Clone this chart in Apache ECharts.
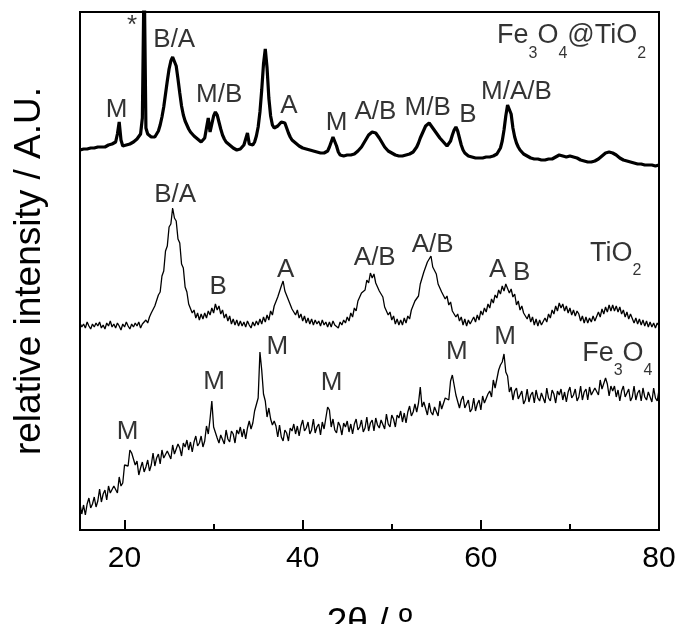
<!DOCTYPE html>
<html>
<head>
<meta charset="utf-8">
<script src="https://cdn.jsdelivr.net/npm/echarts@6/dist/echarts.min.js"></script>
<style>html,body{margin:0;padding:0;background:#fff;overflow:hidden}#chart{width:678px;height:624px}</style>
</head>
<body>
<div id="chart"></div>
<script>
// 2θ scan: 15.0° to 80.0° in 0.2° steps
const thetaStart = 15;
const thetaStep = 0.2;
const xTickLabels = [20, 40, 60, 80];

// Fe3O4@TiO2 (offset trace, top)
const compositeI = [
380,379,381,380,381,380,382,381,382,381,
383,382,383,384,383,384,385,384,386,386,
388,396,408,390,384,383,385,384,386,387,
388,389,391,393,396,412,560,402,396,394,
393,392,393,395,399,405,413,423,436,449,
461,469,473,472,464,451,437,424,415,409,
405,401,398,396,394,392,391,389,388,389,
392,402,412,398,406,414,418,415,408,401,
395,391,388,386,385,383,382,381,380,380,
381,382,385,391,397,386,384,385,388,394,
403,418,440,466,481,462,432,414,405,402,
402,404,405,408,410,407,402,397,393,390,
388,387,385,384,383,382,382,381,381,380,
380,379,379,378,378,377,377,377,378,379,
383,388,393,392,384,378,375,375,374,375,
375,374,375,376,376,377,379,380,383,385,
389,392,395,397,398,398,397,395,392,389,
386,383,381,379,378,377,376,375,375,374,
374,374,375,375,375,376,377,378,380,383,
387,392,396,400,404,406,407,405,402,400,
397,395,392,390,388,386,384,385,389,395,
400,403,399,392,385,380,377,375,374,373,
373,373,372,372,372,372,372,373,373,373,
373,374,374,375,376,379,382,389,400,414,
425,426,416,402,393,387,383,380,378,376,
375,374,373,372,372,371,371,371,370,370,
370,370,371,371,371,371,372,373,374,375,
375,374,373,373,374,374,374,373,372,372,
371,370,369,369,368,368,368,368,369,369,
370,371,372,374,376,377,378,378,378,377,
376,375,373,372,371,370,369,369,368,368,
367,367,367,366,366,366,366,365,365,365,
365,365,365,364,365,365
];

// TiO2 (offset trace, middle)
const tio2I = [
207,203,206,202,208,204,201,206,203,207,
204,208,202,205,201,207,204,209,203,206,
202,207,204,200,206,203,208,204,201,206,
203,207,204,208,202,206,204,210,207,213,
217,215,224,222,235,238,254,259,279,284,
303,306,322,312,309,291,287,266,262,243,
238,226,227,217,220,212,217,210,216,211,
217,212,219,215,222,217,226,220,224,216,
220,212,216,209,214,206,211,205,210,204,
209,204,208,203,209,205,202,208,204,209,
205,211,206,213,208,215,210,219,215,224,
222,233,232,244,249,239,241,230,231,221,
223,215,220,212,216,209,214,207,212,206,
211,205,210,206,209,204,210,205,208,203,
208,203,209,205,207,202,208,205,210,207,
213,209,217,213,222,219,229,227,237,235,
240,250,247,257,252,256,247,249,239,240,
233,223,225,215,218,210,214,206,211,205,
210,205,212,207,214,211,220,218,229,228,
234,246,246,258,258,268,266,274,263,265,
256,246,248,238,240,231,234,225,228,219,
221,213,216,209,213,205,211,204,210,206,
207,213,208,215,210,219,215,222,218,226,
222,231,227,235,232,240,236,244,239,246,
245,237,241,233,236,225,229,220,224,217,
219,211,216,208,213,205,211,204,210,205,
206,212,208,216,212,220,216,224,219,227,
222,226,219,224,217,222,215,220,214,219,
216,209,214,207,213,207,212,208,214,209,
211,218,213,221,216,223,218,225,219,225,
219,224,218,223,216,220,213,218,211,216,
214,207,212,206,211,205,210,204,209,203,
208,203,207,202,207,204
];

// Fe3O4 (bottom trace)
const fe3o4I = [
26,16,25,15,26,32,22,26,33,23,
29,41,28,36,40,30,44,37,35,44,
45,37,53,44,47,65,67,64,80,77,
79,65,69,55,62,68,58,63,70,59,
65,77,64,72,76,66,80,72,70,79,
79,71,85,76,74,86,82,74,87,83,
90,80,88,78,88,94,84,87,94,83,
89,104,96,111,129,103,104,92,87,95,
95,86,100,91,88,99,96,87,100,96,
103,93,101,91,102,109,101,107,119,117,
132,178,160,136,129,113,122,111,105,109,
104,93,105,93,89,100,97,89,102,99,
106,96,104,94,104,110,99,102,108,96,
100,111,97,103,106,95,108,101,103,123,
120,103,111,100,97,108,104,95,107,103,
109,98,106,96,106,111,100,103,110,98,
102,113,99,107,110,99,112,105,102,110,
110,101,116,106,103,115,111,103,115,112,
119,108,117,107,118,124,114,118,126,118,
127,143,123,128,128,115,127,118,115,123,
122,114,129,121,119,132,134,130,149,155,
156,135,137,122,130,134,122,124,130,118,
121,132,119,126,130,120,134,127,126,136,
139,133,150,142,144,160,165,168,176,158,
154,138,143,130,139,142,131,133,139,126,
130,141,128,135,138,127,140,132,129,137,
136,127,142,132,129,140,136,127,139,135,
141,130,138,128,138,143,132,135,141,129,
133,144,130,138,141,130,143,135,133,142,
142,135,150,141,140,152,146,134,144,139,
144,133,140,129,139,144,133,135,141,129,
133,144,130,137,140,129,142,133,130,138,
137,128,142,132,129,140
];

// peak assignments: [text, 2θ, intensity]
const peakLabels = [
  ['*', 20.85, 504], ['M', 19.12, 420], ['B/A', 25.58, 490], ['M/B', 30.62, 435],
  ['A', 38.46, 424], ['M', 43.8, 407], ['A/B', 48.17, 418], ['M/B', 54.03, 422],
  ['B', 58.54, 415], ['M/A/B', 64.0, 438],
  ['B/A', 25.69, 335], ['B', 30.51, 242.7], ['A', 38.09, 260], ['A/B', 48.09, 272],
  ['A/B', 54.59, 285], ['A', 61.9, 260], ['B', 64.59, 256.7],
  ['M', 20.35, 98.3], ['M', 30.06, 148.3], ['M', 37.15, 183.3], ['M', 43.24, 146.7],
  ['M', 57.31, 178.3], ['M', 62.73, 193]
];
// sample names: [text, 2θ, intensity]
const sampleLabels = [
  ['Fe3O4@TiO2', 70.19, 494],
  ['TiO2', 75.13, 276.7],
  ['Fe3O4', 75.32, 176.7]
];

const FONT = "'Liberation Sans', Arial, sans-serif";
const toPairs = arr => arr.map((v, i) => [+(thetaStart + i * thetaStep).toFixed(1), v]);
function toRich(name) {
  const parts = name.match(/\d+|\D+/g);
  return parts.map(p => /\d/.test(p) ? '{s|' + p + '}' : '{n|' + p + '}').join('');
}

const chart = echarts.init(document.getElementById('chart'), null, { width: 678, height: 624 });
const lineBase = { type: 'line', showSymbol: false, symbol: 'none', clip: true, silent: true };
chart.setOption({
  animation: false,
  backgroundColor: '#fff',
  grid: { left: 80, right: 19, top: 12, bottom: 94, outerBoundsMode: 'none', containLabel: false,
    show: true, borderColor: '#000', borderWidth: 2, backgroundColor: 'transparent' },
  xAxis: [
    {
      type: 'value', min: 15, max: 80, splitNumber: 3, position: 'bottom',
      axisLine: { show: true, onZero: false, lineStyle: { color: '#000', width: 2 } },
      axisTick: { show: true, inside: true, length: 10, lineStyle: { color: '#000', width: 2 } },
      axisLabel: { show: true, margin: 14, fontSize: 30, color: '#000', fontFamily: FONT,
        formatter: v => xTickLabels.includes(v) ? String(v) : '' },
      splitLine: { show: false },
      name: '2θ / º', nameLocation: 'middle', nameGap: 75,
      nameTextStyle: { fontSize: 37, color: '#000', fontFamily: FONT }
    },
    {
      type: 'value', min: 15, max: 80, splitNumber: 6, position: 'bottom',
      axisLine: { show: false },
      axisTick: { show: true, inside: true, length: 6, lineStyle: { color: '#000', width: 2 } },
      axisLabel: { show: false },
      splitLine: { show: false }
    }
  ],
  yAxis: {
    type: 'value', min: 0, max: 518,
    axisLine: { show: true, onZero: false, lineStyle: { color: '#000', width: 2 } },
    axisTick: { show: false }, axisLabel: { show: false }, splitLine: { show: false },
    name: 'relative intensity / A.U.', nameLocation: 'middle', nameGap: 32, nameRotate: 90,
    nameTextStyle: { fontSize: 37, color: '#000', fontFamily: FONT }
  },
  series: [
    Object.assign({}, lineBase, { name: 'Fe3O4@TiO2', data: toPairs(compositeI), lineStyle: { color: '#000', width: 3.2 } }),
    Object.assign({}, lineBase, { name: 'TiO2', data: toPairs(tio2I), lineStyle: { color: '#000', width: 1.3 } }),
    Object.assign({}, lineBase, { name: 'Fe3O4', data: toPairs(fe3o4I), lineStyle: { color: '#000', width: 1.3 } }),
    {
      type: 'scatter', silent: true, symbolSize: 0, clip: false,
      data: peakLabels.map(([t, x, v]) => ({ name: t, value: [x, v] })),
      label: { show: true, position: 'inside', formatter: '{b}', fontSize: 26, color: '#000', fontFamily: FONT, align: 'center', verticalAlign: 'middle' }
    },
    {
      type: 'scatter', silent: true, symbolSize: 0, clip: false,
      data: sampleLabels.map(([t, x, v]) => ({ name: t, value: [x, v] })),
      label: {
        show: true, position: 'inside', align: 'center', verticalAlign: 'middle',
        formatter: p => toRich(p.name),
        rich: {
          n: { fontSize: 27, lineHeight: 51, color: '#000', fontFamily: FONT },
          s: { fontSize: 16, lineHeight: 16, verticalAlign: 'bottom', color: '#000', fontFamily: FONT }
        }
      }
    }
  ]
});
</script>
</body>
</html>
